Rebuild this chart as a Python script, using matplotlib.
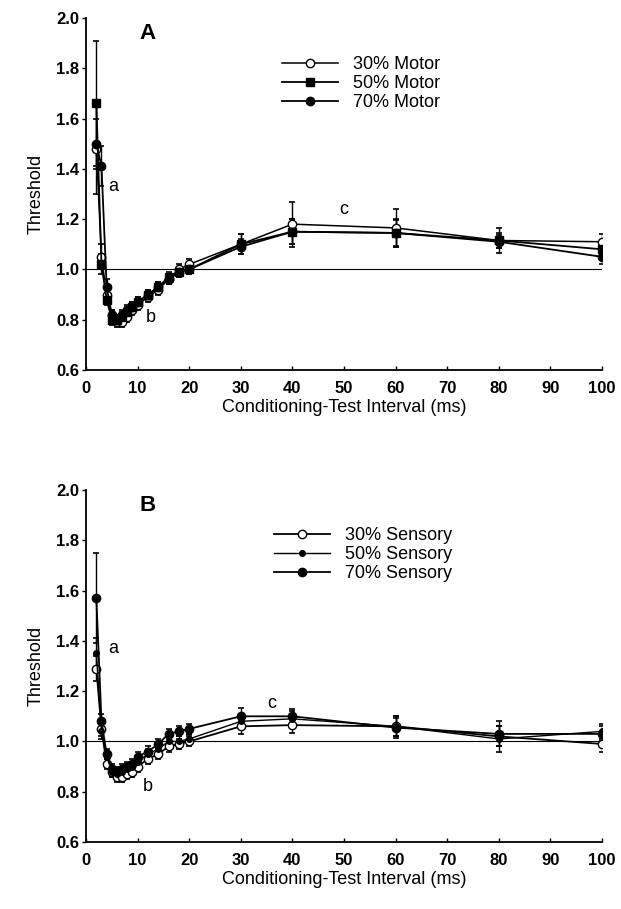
import matplotlib
matplotlib.use("Agg")
import matplotlib.pyplot as plt

plt.rcParams["font.family"] = ["Liberation Sans", "DejaVu Sans"]

# Conditioning-test intervals (ms)
intervals = [2, 3, 4, 5, 6, 7, 8, 9, 10, 12, 14, 16, 18, 20, 30, 40, 60, 80, 100]

# Panel A - motor thresholds
motor_30 = [1.48, 1.05, 0.90, 0.82, 0.79, 0.79, 0.81, 0.84, 0.86, 0.89, 0.92, 0.96, 1.00, 1.02, 1.10, 1.18, 1.165, 1.115, 1.11]
motor_30_err = [0.18, 0.05, 0.02, 0.02, 0.02, 0.02, 0.02, 0.02, 0.02, 0.02, 0.02, 0.02, 0.02, 0.02, 0.04, 0.09, 0.075, 0.05, 0.03]
motor_50 = [1.66, 1.02, 0.88, 0.80, 0.80, 0.81, 0.83, 0.85, 0.87, 0.90, 0.93, 0.97, 0.99, 1.00, 1.10, 1.15, 1.145, 1.115, 1.08]
motor_50_err = [0.25, 0.04, 0.02, 0.02, 0.02, 0.02, 0.02, 0.02, 0.02, 0.02, 0.02, 0.02, 0.02, 0.02, 0.04, 0.05, 0.055, 0.03, 0.03]
motor_70 = [1.50, 1.41, 0.93, 0.82, 0.80, 0.82, 0.84, 0.85, 0.87, 0.90, 0.93, 0.96, 0.99, 1.00, 1.09, 1.15, 1.145, 1.11, 1.05]
motor_70_err = [0.10, 0.08, 0.03, 0.02, 0.02, 0.02, 0.02, 0.02, 0.02, 0.02, 0.02, 0.02, 0.02, 0.02, 0.03, 0.05, 0.05, 0.025, 0.03]

# Panel B - sensory thresholds
sensory_30 = [1.29, 1.05, 0.91, 0.88, 0.86, 0.86, 0.87, 0.88, 0.90, 0.93, 0.95, 0.98, 0.99, 1.00, 1.06, 1.065, 1.06, 1.02, 0.99]
sensory_30_err = [0.05, 0.03, 0.02, 0.02, 0.02, 0.02, 0.02, 0.02, 0.02, 0.02, 0.02, 0.02, 0.02, 0.02, 0.03, 0.03, 0.04, 0.04, 0.03]
sensory_50 = [1.35, 1.04, 0.94, 0.88, 0.87, 0.88, 0.89, 0.90, 0.92, 0.95, 0.97, 1.00, 1.00, 1.01, 1.08, 1.09, 1.06, 1.01, 1.04]
sensory_50_err = [0.06, 0.03, 0.02, 0.02, 0.02, 0.02, 0.02, 0.02, 0.02, 0.02, 0.02, 0.02, 0.02, 0.02, 0.03, 0.03, 0.04, 0.05, 0.03]
sensory_70 = [1.57, 1.08, 0.95, 0.89, 0.88, 0.89, 0.90, 0.91, 0.94, 0.96, 0.99, 1.03, 1.04, 1.05, 1.10, 1.10, 1.055, 1.03, 1.03]
sensory_70_err = [0.18, 0.03, 0.02, 0.02, 0.02, 0.02, 0.02, 0.02, 0.02, 0.02, 0.02, 0.02, 0.02, 0.02, 0.035, 0.03, 0.04, 0.05, 0.03]

x_ticks = list(range(0, 101, 10))
y_ticks = [0.6, 0.8, 1.0, 1.2, 1.4, 1.6, 1.8, 2.0]


def draw_panel(ax, series, letter, notes, legend_anchor):
    handles = []
    for label, y, err, marker, face, ms, lw in series:
        cont = ax.errorbar(intervals, y, yerr=err, color="black", marker=marker,
                           markerfacecolor=face, markeredgecolor="black", markersize=ms,
                           linewidth=lw, elinewidth=1.0, capsize=2.5, capthick=1.2,
                           label=label, zorder=3)
        handles.append(cont[0])
    ax.plot([0, 100], [1.0, 1.0], color="black", linewidth=0.8, zorder=1)

    ax.set_xlim(0, 100)
    ax.set_ylim(0.6, 2.0)
    ax.set_xticks(x_ticks)
    ax.set_yticks(y_ticks)
    ax.set_yticklabels([f"{v:.1f}" for v in y_ticks])
    ax.tick_params(axis="x", direction="in", length=3, width=1.0, pad=8)
    ax.tick_params(axis="y", direction="out", length=3, width=1.0, pad=2)
    for lab in ax.get_xticklabels() + ax.get_yticklabels():
        lab.set_fontsize(12)
        lab.set_fontweight("bold")
    for side in ["top", "right"]:
        ax.spines[side].set_visible(False)
    for side in ["left", "bottom"]:
        ax.spines[side].set_linewidth(1.3)

    ax.set_xlabel("Conditioning-Test Interval (ms)", fontsize=13, labelpad=2)
    ax.set_ylabel("Threshold", fontsize=13, labelpad=8)

    ax.text(12, 1.98, letter, fontsize=16, fontweight="bold", va="top", ha="center")
    for txt, x, y in notes:
        ax.text(x, y, txt, fontsize=13, ha="center", va="center")

    ax.legend(handles=handles, labels=[s[0] for s in series],
              loc="upper left", bbox_to_anchor=legend_anchor, frameon=False,
              fontsize=13, handlelength=3.1, handletextpad=0.8,
              labelspacing=0.12, borderpad=0, borderaxespad=0)


fig = plt.figure(figsize=(6.21, 9.09), dpi=100)
ax_a = fig.add_axes([0.1385, 0.593, 0.831, 0.3872])
ax_b = fig.add_axes([0.1385, 0.0737, 0.831, 0.3872])

draw_panel(ax_a,
           [("30% Motor", motor_30, motor_30_err, "o", "white", 6, 1.1),
            ("50% Motor", motor_50, motor_50_err, "s", "black", 6, 1.3),
            ("70% Motor", motor_70, motor_70_err, "o", "black", 6, 1.3)],
           "A", [("a", 5.3, 1.33), ("b", 12.5, 0.81), ("c", 50, 1.24)],
           (0.38, 0.892))

draw_panel(ax_b,
           [("30% Sensory", sensory_30, sensory_30_err, "o", "white", 6, 1.3),
            ("50% Sensory", sensory_50, sensory_50_err, "o", "black", 4, 1.0),
            ("70% Sensory", sensory_70, sensory_70_err, "o", "black", 6, 1.3)],
           "B", [("a", 5.3, 1.37), ("b", 12, 0.82), ("c", 36, 1.15)],
           (0.365, 0.895))

fig.savefig("out.png", dpi=100)
